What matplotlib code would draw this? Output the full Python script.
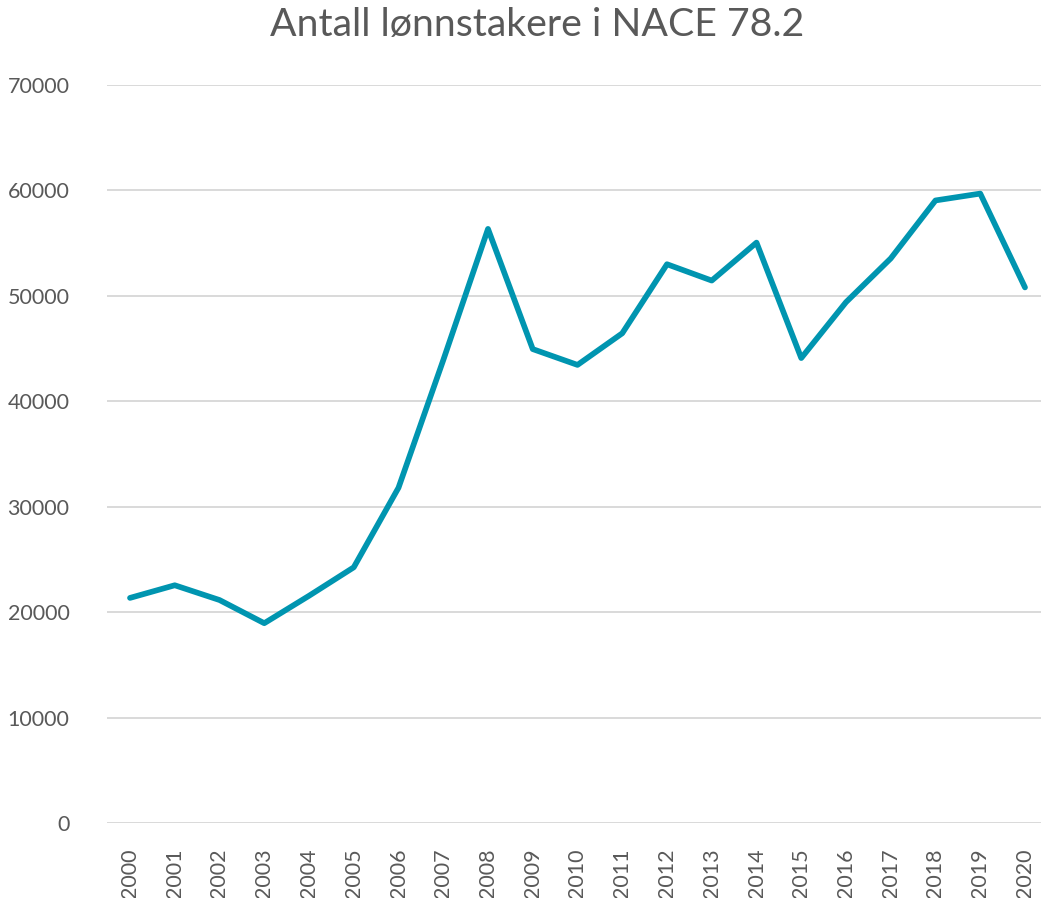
import matplotlib
matplotlib.use('Agg')
from matplotlib import pyplot as plt

# Antall lønnstakere i NACE 78.2, lest av bildet
years = [str(y) for y in range(2000, 2021)]
values = [21350, 22550, 21150, 18950, 21550, 24250, 31800, 43900, 56350,
          44950, 43450, 46450, 53000, 51450, 55050, 44100, 49400, 53550,
          59050, 59700, 50800]
yticks = [0, 10000, 20000, 30000, 40000, 50000, 60000, 70000]

plt.rcParams['font.family'] = ['Lato', 'DejaVu Sans']
grey = '#595959'

W, H = 1041, 898
fig = plt.figure(figsize=(W/100, H/100), dpi=100)
left, right, bottom, top = 107, 1041, 823, 85
ax = fig.add_axes([left/W, (H-bottom)/H, (right-left)/W, (bottom-top)/H])

x = list(range(len(years)))
ax.plot(x, values, color='#0095B0', lw=4.1, solid_joinstyle='round',
        solid_capstyle='round', zorder=3)

step = 44.75
x0 = -(130-left)/step
ax.set_xlim(x0, x0+(right-left)/step)
ax.set_ylim(0, 70000)
ax.set_yticks(yticks)
ax.set_yticklabels([str(v) for v in yticks], fontsize=15.5, color=grey)
ax.set_xticks(x)
ax.set_xticklabels(years, rotation=90, fontsize=15.5, color=grey)
ax.tick_params(axis='y', length=0, pad=27)
ax.tick_params(axis='x', length=0, pad=18)
ax.grid(axis='y', color='#D9D9D9', lw=1.4)
ax.set_axisbelow(True)
for s in ax.spines.values():
    s.set_visible(False)

fig.text(537/W, 1-25/H, 'Antall lønnstakere i NACE 78.2', ha='center',
         va='center', fontsize=28.3, color=grey)

fig.savefig('out.png', dpi=100)
